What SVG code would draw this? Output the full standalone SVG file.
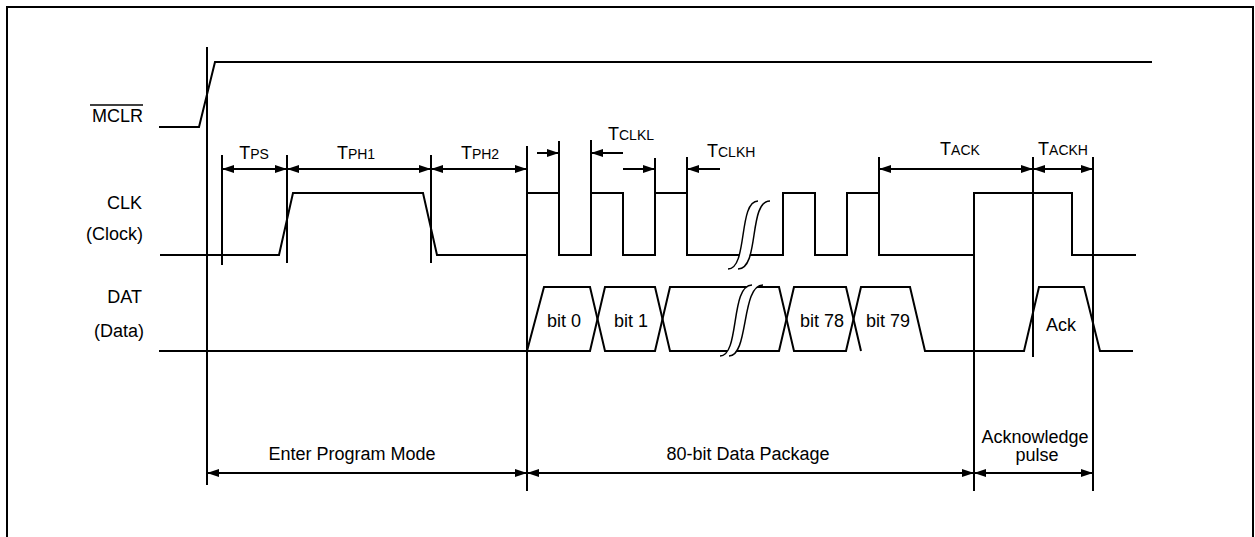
<svg xmlns="http://www.w3.org/2000/svg" width="1255" height="537" viewBox="0 0 1255 537">
<style>
text{font-family:"Liberation Sans",Arial,sans-serif;font-size:18px;fill:#000}
.sm{font-size:14px}
.w{fill:none;stroke:#000;stroke-width:2;stroke-linejoin:miter}
.t{fill:none;stroke:#000;stroke-width:1.5}
.ref{stroke:#000;stroke-width:2}
.arr{stroke:#000;stroke-width:2;fill:none}
.dbl{marker-start:url(#ah);marker-end:url(#ah)}
.one{marker-end:url(#ah)}
</style>
<defs>
<marker id="ah" markerUnits="userSpaceOnUse" markerWidth="13" markerHeight="8" refX="12" refY="4" orient="auto-start-reverse">
<path d="M0,0 L12,4 L0,8 z" fill="#000"/>
</marker>
</defs>
<rect width="1255" height="537" fill="#fff"/>
<path id="border" d="M7,537 V7 H1253 V537" fill="none" stroke="#000" stroke-width="2"/>

<g id="labels">
<text x="143" y="122" text-anchor="end">MCLR</text>
<line x1="90" y1="105" x2="143" y2="105" stroke="#000" stroke-width="1.5"/>
<text x="142" y="209" text-anchor="end">CLK</text>
<text x="143" y="240" text-anchor="end">(Clock)</text>
<text x="142" y="303" text-anchor="end">DAT</text>
<text x="144" y="337" text-anchor="end">(Data)</text>
</g>

<g id="references">
<line class="ref" x1="207" y1="47" x2="207" y2="485"/>
<line class="ref" x1="222" y1="155" x2="222" y2="265"/>
<line class="ref" x1="287" y1="155" x2="287" y2="263"/>
<line class="ref" x1="431" y1="155" x2="431" y2="263"/>
<line class="ref" x1="527" y1="146" x2="527" y2="491"/>
<line class="ref" x1="559" y1="141" x2="559" y2="193"/>
<line class="ref" x1="591" y1="140" x2="591" y2="193"/>
<line class="ref" x1="655" y1="158" x2="655" y2="193"/>
<line class="ref" x1="687" y1="157" x2="687" y2="193"/>
<line class="ref" x1="879" y1="157" x2="879" y2="193"/>
<line class="ref" x1="974" y1="192" x2="974" y2="491"/>
<line class="ref" x1="1033" y1="157" x2="1033" y2="357"/>
<line class="ref" x1="1093" y1="157" x2="1093" y2="491"/>
</g>

<g id="mclr">
<path class="w" d="M159,127 H199 L215,62 H1152"/>
</g>

<g id="clk">
<path class="w" d="M160,255 H279 L293,193 H423 L437,255 H527 V193 H559 V255 H591 V193 H623 V255 H655 V193 H687 V255 H783 V193 H815 V255 H847 V193 H879 V255 H974 V193 H1072 V255 H1136"/>
<path d="M728,269 C748,269 738,201 758,201 L770,201 C750,201 758,269 738,269 Z" fill="#fff" stroke="none"/>
<path class="t" d="M728,269 C748,269 738,201 758,201"/>
<path class="t" d="M738,269 C760,269 748,201 770,201"/>
</g>

<g id="dat">
<path class="w" d="M159,351 H527 L544,287 H590 L605,351 H655 L670,287 H779 L794,351 H846 L861,287 H910 L925,351 H1024 L1039,287 H1084 L1100,351 H1133"/>
<path class="w" d="M527,351 H590 L605,287 H655 L670,351 H779 L794,287 H846 L861,351"/>
<path d="M720,356 C740,356 730,285 752,285 L763,285 C741,285 749,356 729,356 Z" fill="#fff" stroke="none"/>
<path class="t" d="M720,356 C740,356 730,285 752,285"/>
<path class="t" d="M729,356 C749,356 741,285 763,285"/>
<text x="564" y="327" text-anchor="middle">bit 0</text>
<text x="631" y="327" text-anchor="middle">bit 1</text>
<text x="822" y="327" text-anchor="middle">bit 78</text>
<text x="888" y="327" text-anchor="middle">bit 79</text>
<text x="1061" y="331" text-anchor="middle">Ack</text>
</g>

<g id="connectors">
<line class="arr dbl" x1="222" y1="169" x2="287" y2="169"/>
<line class="arr dbl" x1="287" y1="169" x2="431" y2="169"/>
<line class="arr dbl" x1="431" y1="169" x2="527" y2="169"/>
<line class="arr one" x1="537" y1="153" x2="559" y2="153"/>
<line class="arr one" x1="623" y1="153" x2="591" y2="153"/>
<line class="arr one" x1="623" y1="169" x2="655" y2="169"/>
<line class="arr one" x1="720" y1="169" x2="687" y2="169"/>
<line class="arr dbl" x1="879" y1="169" x2="1033" y2="169"/>
<line class="arr dbl" x1="1033" y1="169" x2="1093" y2="169"/>
<line class="arr dbl" x1="207" y1="473" x2="527" y2="473"/>
<line class="arr dbl" x1="527" y1="473" x2="974" y2="473"/>
<line class="arr dbl" x1="974" y1="473" x2="1093" y2="473"/>
</g>

<g id="timing-labels">
<text x="254" y="159" text-anchor="middle">T<tspan class="sm">PS</tspan></text>
<text x="356" y="159" text-anchor="middle">T<tspan class="sm">PH1</tspan></text>
<text x="480" y="159" text-anchor="middle">T<tspan class="sm">PH2</tspan></text>
<text x="608" y="140">T<tspan class="sm">CLKL</tspan></text>
<text x="707" y="157">T<tspan class="sm">CLKH</tspan></text>
<text x="960" y="155" text-anchor="middle">T<tspan class="sm">ACK</tspan></text>
<text x="1063" y="155" text-anchor="middle">T<tspan class="sm">ACKH</tspan></text>
</g>

<g id="phase-labels">
<text x="352" y="460" text-anchor="middle">Enter Program Mode</text>
<text x="748" y="460" text-anchor="middle">80-bit Data Package</text>
<text x="1035" y="443" text-anchor="middle">Acknowledge</text>
<text x="1037" y="461" text-anchor="middle">pulse</text>
</g>
</svg>
